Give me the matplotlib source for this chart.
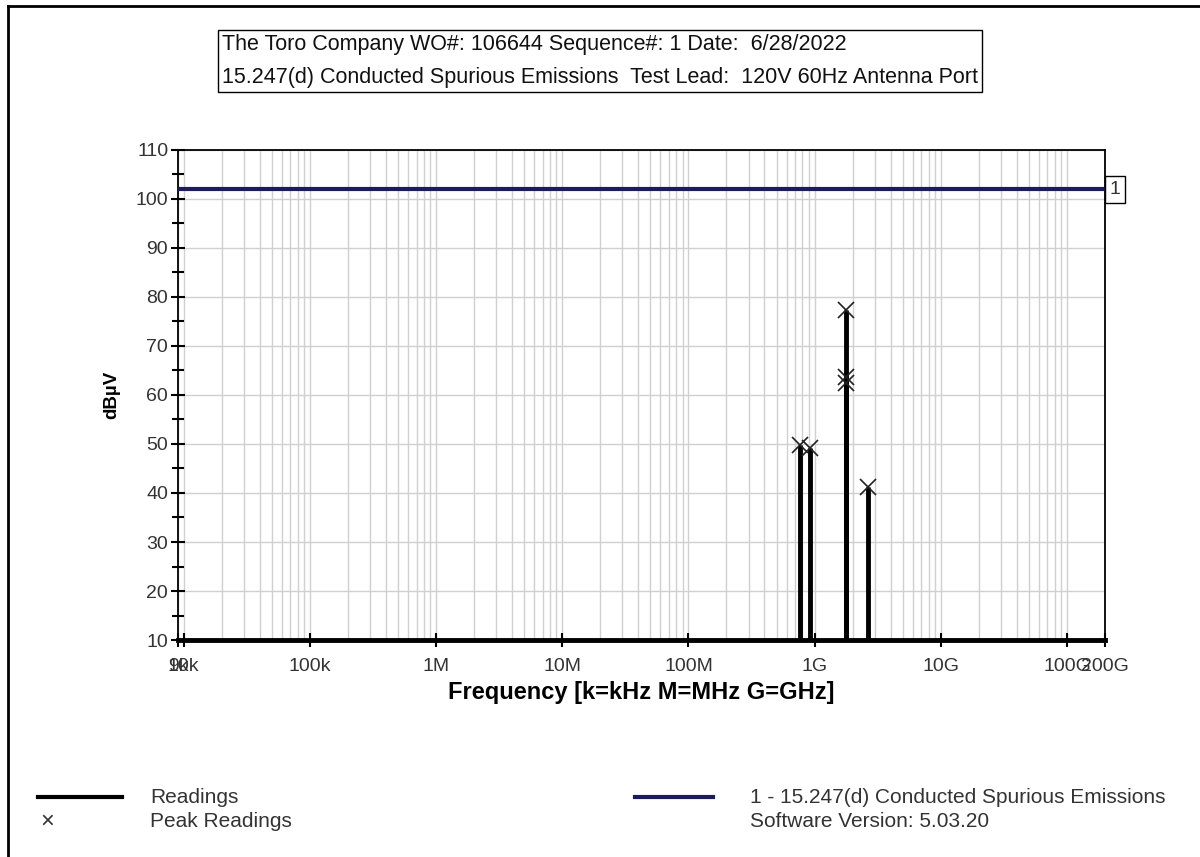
import matplotlib
matplotlib.use("Agg")
import numpy as np
import matplotlib.pyplot as plt
from matplotlib.ticker import FixedLocator, NullFormatter

plt.rcParams['font.family'] = ['Liberation Sans', 'DejaVu Sans']

# sweep range and floor of the plot
f_start = 9e3
f_stop = 2e11
floor_level = 10.0
limit_level = 102.0

# peak readings (Hz, dBuV)
peak_freq = [7.6e8, 9.2e8, 1.77e9, 1.77e9, 1.77e9, 2.64e9]
peak_level = [49.8, 49.2, 77.3, 63.6, 62.4, 41.2]

x_ticks = [9e3, 1e4, 1e5, 1e6, 1e7, 1e8, 1e9, 1e10, 1e11, 2e11]
x_labels = ['9k', '10k', '100k', '1M', '10M', '100M', '1G', '10G', '100G', '200G']
y_ticks = [10, 20, 30, 40, 50, 60, 70, 80, 90, 100, 110]

header = ("The Toro Company WO#: 106644 Sequence#: 1 Date:  6/28/2022\n"
          "15.247(d) Conducted Spurious Emissions  Test Lead:  120V 60Hz Antenna Port")
limit_name = "1 - 15.247(d) Conducted Spurious Emissions"
version = "Software Version: 5.03.20"

navy = '#1c1c5a'
txt = '#333333'

fig = plt.figure(figsize=(12, 8.57), dpi=100)
ax = fig.add_axes([0.1483, 0.2532, 0.7725, 0.5718])

ax.set_xscale('log')
ax.set_xlim(f_start, f_stop)
ax.set_ylim(floor_level, 110)

# grid: every 1..9 per decade on x, every 10 dB on y
minor = [m * 10.0 ** d for d in range(3, 12) for m in range(1, 10)]
minor = [f for f in minor if f_start <= f <= f_stop]
for f in minor:
    ax.axvline(f, color='#d0d0d0', lw=1.0, zorder=0)
for y in y_ticks:
    ax.axhline(y, color='#d0d0d0', lw=1.0, zorder=0)

# limit line
ax.axhline(limit_level, color=navy, lw=3, zorder=3)
ax.text(1.005, (limit_level - floor_level) / 100.0, '1', transform=ax.transAxes,
        ha='left', va='center', fontsize=14, color=txt,
        bbox=dict(boxstyle='square,pad=0.25', fc='white', ec='black', lw=1))

# readings: floor trace plus spikes
ax.plot([f_start, f_stop], [floor_level, floor_level], color='black', lw=3.5,
        zorder=4, clip_on=False)
ax.vlines(peak_freq, floor_level, peak_level, color='black', lw=3.5, zorder=4)
ax.plot(peak_freq, peak_level, 'x', color='#222222', ms=12, mew=1.2, zorder=5)

ax.xaxis.set_major_locator(FixedLocator(x_ticks))
ax.set_xticklabels(x_labels)
ax.xaxis.set_minor_locator(FixedLocator([]))
ax.xaxis.set_minor_formatter(NullFormatter())
ax.yaxis.set_major_locator(FixedLocator(y_ticks))
ax.yaxis.set_minor_locator(FixedLocator(list(range(15, 110, 10))))
ax.tick_params(axis='both', which='both', direction='inout', width=1.5,
               colors='black', labelcolor=txt, labelsize=14)
ax.tick_params(axis='y', which='major', length=10, pad=2)
ax.tick_params(axis='y', which='minor', length=8)
ax.tick_params(axis='x', which='major', length=10, pad=8)
for s in ax.spines.values():
    s.set_linewidth(1.3)

ax.set_xlabel('Frequency [k=kHz M=MHz G=GHz]', fontsize=17, fontweight='bold',
              labelpad=4)
ax.set_ylabel('dBµV', fontsize=13.5, fontweight='bold', labelpad=11)

# header box
fig.text(0.185, 0.929, header, ha='left', va='center', fontsize=15.5,
         linespacing=1.75, color='#111111',
         bbox=dict(boxstyle='square,pad=0.2', fc='white', ec='black', lw=1))

# legend drawn at the bottom
fig.add_artist(plt.Line2D([0.032, 0.102], [0.07, 0.07], color='black', lw=3))
fig.text(0.125, 0.07, 'Readings', va='center', fontsize=15, color=txt)
fig.text(0.039, 0.041, '×', va='center', ha='center', fontsize=17, color=txt)
fig.text(0.125, 0.041, 'Peak Readings', va='center', fontsize=15, color=txt)
fig.add_artist(plt.Line2D([0.529, 0.594], [0.07, 0.07], color=navy, lw=3))
fig.text(0.625, 0.07, limit_name, va='center', fontsize=15, color=txt)
fig.text(0.625, 0.041, version, va='center', fontsize=15, color=txt)

# page frame, left and top edges
fig.add_artist(plt.Line2D([0.0065, 0.0065], [0.0, 0.993], color='black', lw=2))
fig.add_artist(plt.Line2D([0.0065, 1.0], [0.993, 0.993], color='black', lw=2))

fig.savefig('out.png', dpi=100, facecolor='white')
